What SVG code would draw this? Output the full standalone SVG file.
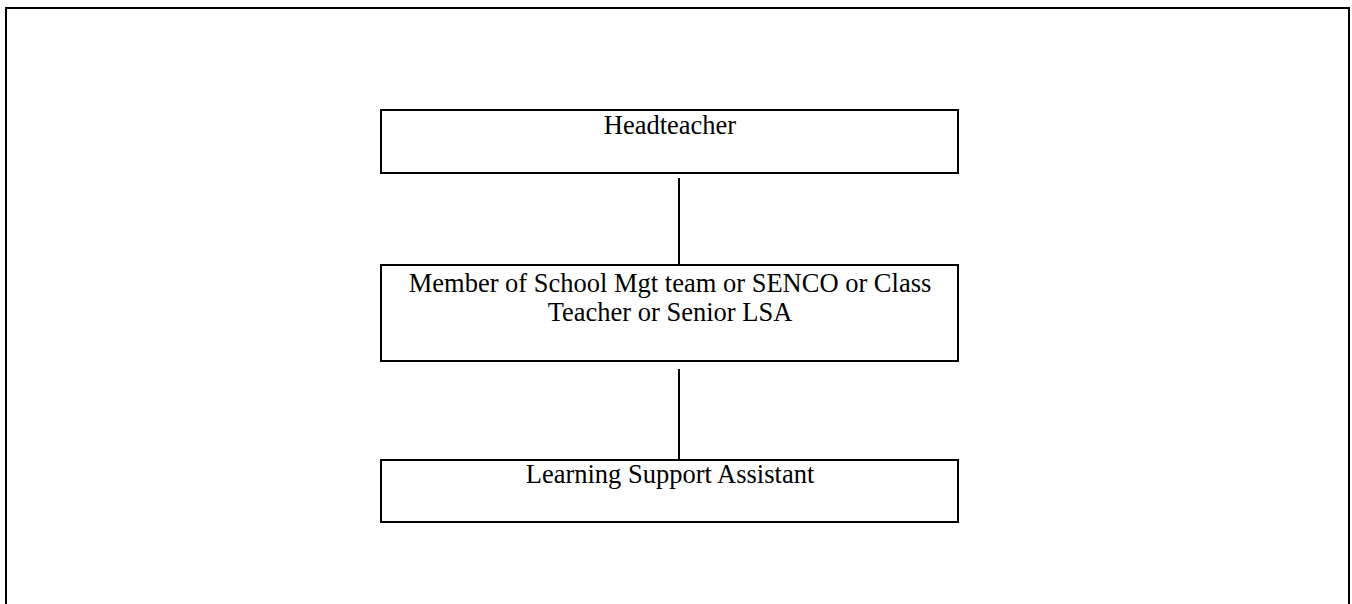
<svg xmlns="http://www.w3.org/2000/svg" width="1352" height="604" viewBox="0 0 1352 604">
<style>
.box{fill:#fff;stroke:#000;stroke-width:2}
.t{font-family:"Liberation Serif","Times New Roman",serif;font-size:26.5px;fill:#000;text-anchor:middle}
.c{stroke:#000;stroke-width:2;fill:none}
</style>
<rect x="0" y="0" width="1352" height="604" fill="#fff"/>
<path d="M6,610 V8 H1349 V610" fill="none" stroke="#000" stroke-width="2"/>
<g id="connectors">
<line class="c" x1="679" y1="178" x2="679" y2="264"/>
<line class="c" x1="679" y1="369" x2="679" y2="460"/>
</g>
<g id="headteacher">
<rect class="box" x="381" y="110" width="577" height="63"/>
<text class="t" x="670" y="134">Headteacher</text>
</g>
<g id="member">
<rect class="box" x="381" y="265" width="577" height="96"/>
<text class="t" x="670" y="292">Member of School Mgt team or SENCO or Class</text>
<text class="t" x="670" y="321">Teacher or Senior LSA</text>
</g>
<g id="lsa">
<rect class="box" x="381" y="460" width="577" height="62"/>
<text class="t" x="670" y="483">Learning Support Assistant</text>
</g>
</svg>
